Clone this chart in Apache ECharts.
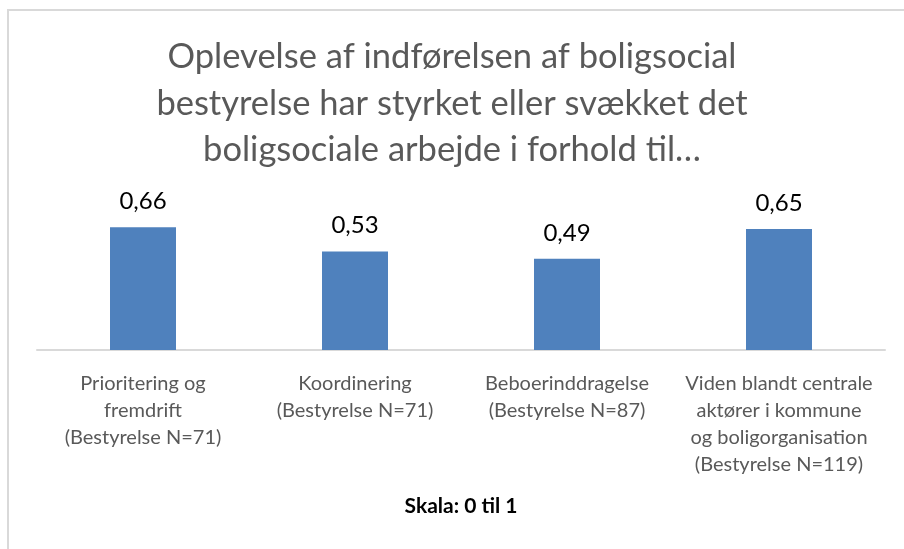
<!DOCTYPE html>
<html>
<head>
<meta charset="utf-8">
<script src="https://cdn.jsdelivr.net/npm/echarts@6/dist/echarts.min.js"></script>
<style>
  html, body { margin: 0; padding: 0; background: #fff; }
  #chart { width: 904px; height: 549px; position: absolute; left: 0; top: 0; }
  #frame { position: absolute; left: 7px; top: 9px; width: 897px; height: 540px;
           border-left: 2px solid #d9d9d9; border-top: 2px solid #d9d9d9; pointer-events: none; }
</style>
</head>
<body>
<div id="chart"></div>
<div id="frame"></div>
<script>
const titleText = "Oplevelse af indførelsen af boligsocial\nbestyrelse har styrket eller svækket det\nboligsociale arbejde i forhold til…";
const categories = [
  "Prioritering og\nfremdrift\n(Bestyrelse N=71)",
  "Koordinering\n(Bestyrelse N=71)",
  "Beboerinddragelse\n(Bestyrelse N=87)",
  "Viden blandt centrale\naktører i kommune\nog boligorganisation\n(Bestyrelse N=119)"
];
const values = [0.66, 0.53, 0.49, 0.65];
const axisName = "Skala: 0 til 1";

const chart = echarts.init(document.getElementById('chart'));
chart.setOption({
  animation: false,
  title: {
    text: titleText,
    left: 'center',
    top: 34,
    padding: 0,
    textStyle: { fontFamily: 'Lato', fontSize: 34.5, fontWeight: 'normal', color: '#595959', lineHeight: 46.5 }
  },
  grid: { left: 37, right: 19, top: 164, bottom: 199, containLabel: false },
  xAxis: {
    type: 'category',
    data: categories,
    axisLine: { lineStyle: { color: '#d9d9d9', width: 2 } },
    axisTick: { show: false },
    axisLabel: { color: '#595959', fontFamily: 'Lato', fontSize: 20, lineHeight: 27, margin: 20, interval: 0 },
    name: axisName,
    nameLocation: 'middle',
    nameGap: 146,
    nameTextStyle: { fontFamily: 'Lato', fontSize: 21, fontWeight: 'bold', color: '#000' }
  },
  yAxis: { type: 'value', min: 0, max: 1, show: false, splitLine: { show: false } },
  series: [{
    type: 'bar',
    data: values,
    barWidth: 66,
    itemStyle: { color: '#4f81bd' },
    label: {
      show: true,
      position: 'top',
      distance: 14,
      color: '#000',
      fontFamily: 'Lato',
      fontSize: 24,
      formatter: p => p.value.toFixed(2).replace('.', ',')
    }
  }]
});
</script>
</body>
</html>
